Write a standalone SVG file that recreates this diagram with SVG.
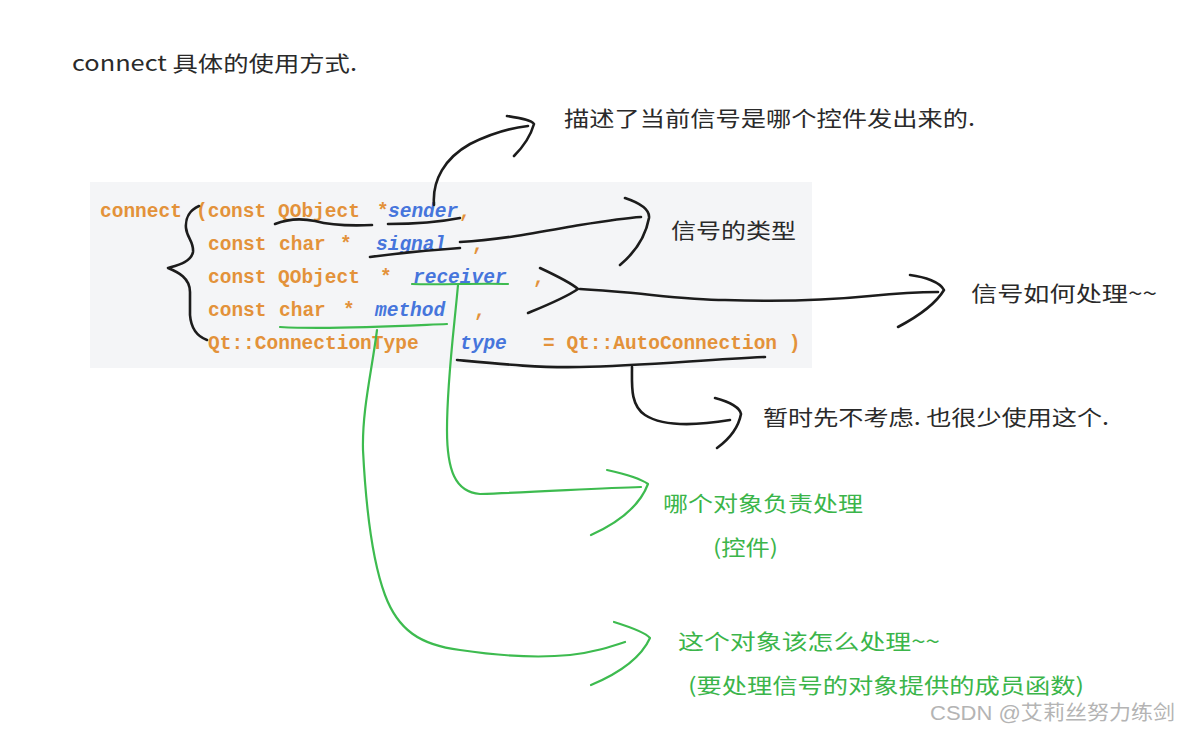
<svg xmlns="http://www.w3.org/2000/svg" width="1178" height="732" viewBox="0 0 1178 732">
<style>
.bg{fill:#ffffff}
.code{font-family:"Liberation Mono","DejaVu Sans Mono",monospace;font-size:19.5px;font-weight:bold;fill:#e3923a}
.v{fill:#4675dc;font-style:italic}
.cn{font-family:"Noto Sans CJK SC","Noto Sans",sans-serif;font-size:21px;fill:#2a2a2a}
.gn{font-family:"Noto Sans CJK SC","Noto Sans",sans-serif;font-size:21px;fill:#3bb54a}
.wm{font-family:"Liberation Sans","Noto Sans CJK SC",sans-serif;font-size:20px;fill:#b4b4b4}
.ink{fill:none;stroke:#1c1c1c;stroke-width:2.6;stroke-linecap:round;stroke-linejoin:round}
.gr{fill:none;stroke:#3dbb4f;stroke-width:2.2;stroke-linecap:round;stroke-linejoin:round}
</style>
<rect class="bg" x="0" y="0" width="1178" height="732"/>
<g id="title">
<text class="cn" x="72" y="71" font-size="20" textLength="285" lengthAdjust="spacingAndGlyphs">connect 具体的使用方式.</text>
</g>
<g id="code">
<rect x="90" y="182" width="722" height="186" fill="#f4f5f7"/>
<text class="code" y="217"><tspan x="100">connect</tspan><tspan x="196">(const</tspan><tspan x="278">QObject</tspan><tspan x="377">*</tspan><tspan x="388" class="v">sender</tspan><tspan x="459">,</tspan></text>
<text class="code" y="250"><tspan x="208">const</tspan><tspan x="279">char</tspan><tspan x="340">*</tspan><tspan x="376" class="v">signal</tspan><tspan x="472">,</tspan></text>
<text class="code" y="283"><tspan x="208">const</tspan><tspan x="278">QObject</tspan><tspan x="380">*</tspan><tspan x="413" class="v">receiver</tspan><tspan x="533">,</tspan></text>
<text class="code" y="316"><tspan x="208">const</tspan><tspan x="279">char</tspan><tspan x="343">*</tspan><tspan x="375" class="v">method</tspan><tspan x="474">,</tspan></text>
<text class="code" y="349"><tspan x="208">Qt::ConnectionType</tspan><tspan x="460" class="v">type</tspan><tspan x="543">= Qt::AutoConnection )</tspan></text>
</g>
<g id="connectors">
<path class="ink" d="M199,206 C190,210 185,218 186,228 C187,238 194,242 193,252 C191,262 178,265 168,268 C178,272 190,278 190,292 L190,315 C191,328 196,336 207,340"/>
<path class="ink" d="M275,224 C285,220 300,218 315,221 C330,225 350,226 372,225"/>
<path class="ink" d="M388,224 C410,224 440,222 460,218"/>
<path class="ink" d="M434,205 C432,180 445,158 470,144 C490,134 510,128 528,126"/>
<path class="ink" d="M507,116 C520,118 532,120 534,124 C530,138 522,148 514,156"/>
<path class="ink" d="M370,257 C400,253 430,250 460,248"/>
<path class="ink" d="M460,242 C500,240 540,232 580,225 C605,221 625,218 641,217"/>
<path class="ink" d="M625,198 C640,203 650,210 649,218 C645,240 632,255 620,265"/>
<path class="ink" d="M540,268 C555,275 570,282 578,289 C565,298 545,306 528,313"/>
<path class="ink" d="M580,289 C640,292 680,300 725,300 C780,302 830,300 870,296 C900,293 920,292 938,292"/>
<path class="ink" d="M910,275 C925,277 940,282 944,290 C935,305 915,318 898,327"/>
<path class="ink" d="M457,360 C500,364 540,368 580,367 C640,366 700,360 765,357"/>
<path class="ink" d="M632,367 C632,385 630,405 645,415 C665,428 700,425 730,420"/>
<path class="ink" d="M715,398 C730,402 740,408 741,414 C738,430 728,440 717,448"/>
<path class="gr" d="M412,284 C440,285 480,283 508,284"/>
<path class="gr" d="M458,285 C454,330 447,380 447,430 C447,470 455,492 480,494 C540,492 600,488 641,487"/>
<path class="gr" d="M607,470 C625,474 640,478 648,484 C640,505 620,522 591,535"/>
<path class="gr" d="M280,327 C330,330 400,326 447,324"/>
<path class="gr" d="M377,330 C372,370 362,410 363,450 C366,510 372,560 385,595 C398,630 420,645 460,650 C500,656 540,658 570,655 C595,652 610,647 625,642"/>
<path class="gr" d="M614,622 C630,627 645,632 650,638 C640,660 615,675 591,685"/>
</g>
<g id="n-sender"><text class="cn" x="564" y="126" textLength="411" lengthAdjust="spacingAndGlyphs">描述了当前信号是哪个控件发出来的.</text></g>
<g id="n-signal"><text class="cn" x="671" y="238" textLength="125" lengthAdjust="spacingAndGlyphs">信号的类型</text></g>
<g id="n-handle"><text class="cn" x="971" y="301" textLength="186" lengthAdjust="spacingAndGlyphs">信号如何处理~~</text></g>
<g id="n-type"><text class="cn" x="763" y="425" textLength="346" lengthAdjust="spacingAndGlyphs">暂时先不考虑. 也很少使用这个.</text></g>
<g id="n-receiver"><text class="gn" x="663" y="511" textLength="200" lengthAdjust="spacingAndGlyphs">哪个对象负责处理</text><text class="gn" x="713" y="555" textLength="65" lengthAdjust="spacingAndGlyphs">(控件)</text></g>
<g id="n-method"><text class="gn" x="678" y="649" textLength="262" lengthAdjust="spacingAndGlyphs">这个对象该怎么处理~~</text><text class="gn" x="688" y="693" textLength="396" lengthAdjust="spacingAndGlyphs">(要处理信号的对象提供的成员函数)</text></g>
<text class="wm" x="930" y="720" textLength="245" lengthAdjust="spacingAndGlyphs">CSDN @艾莉丝努力练剑</text>
</svg>
